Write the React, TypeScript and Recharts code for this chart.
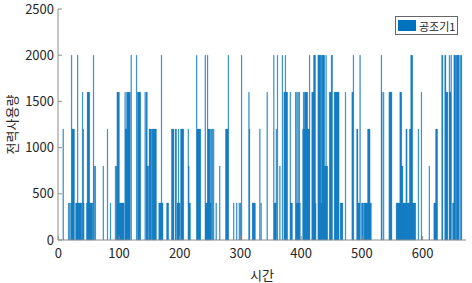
import React from "react";
import { Bar, BarChart, Legend, XAxis, YAxis } from "recharts";

const seriesName = "공조기1";
const hourTicks = [0, 100, 200, 300, 400, 500, 600];
const powerTicks = [0, 500, 1000, 1500, 2000, 2500];

// 시간별 전력사용량, 한 줄에 24시간씩 (0 ~ 671시)
const power: number[] = [
  0, 0, 0, 0, 0, 0, 0, 0, 1200, 0, 0, 0, 0, 0, 0, 0, 0, 400, 0, 400, 0, 400, 2000, 1200,
  1200, 1200, 1200, 0, 0, 400, 400, 400, 2000, 400, 400, 400, 400, 400, 400, 0, 1600, 1200, 400, 0, 0, 0, 0, 400,
  1600, 1600, 1600, 1600, 400, 400, 400, 400, 400, 0, 2000, 800, 0, 800, 0, 0, 0, 0, 0, 0, 0, 0, 0, 0,
  0, 0, 800, 0, 0, 0, 0, 0, 0, 1200, 0, 0, 0, 0, 400, 0, 0, 0, 0, 0, 0, 0, 800, 0,
  800, 1600, 1600, 1600, 1600, 400, 400, 400, 400, 400, 400, 400, 400, 0, 1600, 1200, 1200, 1600, 1600, 1600, 1600, 1600, 1600, 0,
  2000, 0, 0, 0, 0, 0, 0, 0, 0, 2000, 0, 1600, 1600, 1600, 1600, 1600, 0, 0, 0, 0, 0, 0, 0, 1600,
  0, 1600, 1600, 800, 800, 0, 1200, 1200, 1200, 1200, 0, 1200, 1200, 1200, 1200, 1200, 1200, 1200, 0, 0, 0, 0, 400, 400,
  400, 400, 2000, 400, 400, 0, 0, 0, 0, 0, 0, 400, 400, 400, 0, 0, 0, 0, 0, 1200, 1200, 1200, 1200, 0,
  0, 1200, 1200, 0, 400, 400, 1200, 400, 400, 0, 1200, 1200, 1200, 1200, 1200, 0, 0, 0, 0, 0, 0, 0, 1200, 800,
  400, 400, 0, 0, 0, 0, 0, 0, 0, 0, 0, 0, 2000, 1200, 1200, 1200, 1200, 1200, 1200, 0, 0, 0, 0, 0,
  0, 0, 2000, 400, 400, 400, 2000, 1200, 1200, 1200, 1200, 400, 1200, 0, 1200, 0, 1200, 0, 0, 0, 400, 0, 0, 0,
  0, 0, 800, 0, 0, 0, 0, 0, 0, 0, 0, 0, 1200, 1200, 1200, 1200, 2000, 0, 0, 0, 0, 0, 0, 0,
  0, 400, 0, 0, 0, 0, 400, 0, 0, 0, 400, 0, 400, 0, 2000, 0, 0, 0, 0, 0, 0, 0, 0, 0,
  0, 0, 1600, 1200, 0, 0, 0, 0, 400, 400, 400, 400, 400, 0, 0, 0, 0, 0, 0, 0, 1200, 0, 400, 0,
  0, 0, 0, 0, 0, 0, 0, 0, 1600, 0, 0, 0, 0, 0, 0, 0, 0, 0, 0, 2000, 400, 400, 400, 1200,
  0, 2000, 0, 0, 0, 800, 0, 0, 0, 2000, 0, 0, 1600, 1600, 2000, 1600, 1600, 1600, 0, 0, 0, 0, 1600, 400,
  400, 400, 0, 0, 0, 0, 0, 1600, 400, 1600, 400, 1600, 400, 1600, 400, 0, 0, 0, 0, 1200, 1600, 1200, 1600, 1600,
  1600, 1600, 1600, 1200, 1200, 1200, 2000, 0, 0, 0, 1600, 1600, 1600, 2000, 2000, 2000, 400, 0, 0, 0, 2000, 2000, 2000, 2000,
  2000, 400, 2000, 2000, 2000, 2000, 2000, 800, 800, 2000, 800, 800, 0, 0, 0, 1600, 1600, 1600, 2000, 2000, 0, 0, 0, 1600,
  1600, 1600, 1600, 1600, 1600, 1600, 1600, 0, 0, 400, 400, 400, 400, 0, 0, 0, 0, 1600, 0, 0, 0, 0, 0, 0,
  0, 0, 0, 0, 1600, 1600, 2000, 0, 0, 0, 0, 0, 1200, 1200, 400, 400, 400, 2000, 0, 0, 400, 400, 400, 0,
  400, 400, 400, 400, 400, 400, 1200, 1200, 1200, 1200, 400, 400, 0, 0, 0, 0, 0, 0, 0, 0, 0, 0, 0, 0,
  0, 0, 0, 0, 2000, 1600, 0, 0, 1600, 0, 0, 0, 0, 0, 0, 0, 0, 1600, 1600, 1600, 1600, 1600, 0, 0,
  0, 0, 0, 0, 0, 400, 400, 400, 400, 400, 400, 1600, 1600, 1600, 800, 800, 400, 400, 400, 400, 400, 1200, 1200, 400,
  400, 400, 400, 1200, 1200, 2000, 2000, 2000, 400, 400, 400, 400, 400, 0, 0, 0, 0, 1200, 0, 0, 0, 0, 1600, 0,
  0, 0, 0, 0, 0, 0, 0, 0, 0, 0, 0, 800, 0, 0, 0, 0, 0, 0, 0, 400, 400, 400, 1200, 1200,
  1200, 0, 0, 0, 0, 0, 0, 0, 2000, 2000, 0, 0, 0, 2000, 2000, 1600, 1600, 1600, 0, 0, 2000, 1600, 1600, 2000,
  0, 0, 400, 400, 2000, 2000, 2000, 0, 2000, 2000, 2000, 2000, 2000, 0, 0, 2000, 2000, 0, 0, 0, 0, 0, 0, 0,
];

const data = power.map((value, hour) => ({ hour, value }));

const FONT = "'Noto Sans CJK KR', 'Noto Sans', sans-serif";
const AXIS = "#8c8c8c";
const TEXT = "#262626";
const BLUE = "#0072BD";

const blank = () => "";

function LegendBox() {
  return (
    <div
      style={{
        display: "flex",
        alignItems: "center",
        boxSizing: "border-box",
        width: 63,
        height: 19,
        border: "1px solid #666",
        background: "#fff",
        paddingLeft: 2,
        fontSize: 11,
        color: TEXT,
        fontFamily: FONT,
      }}
    >
      <span style={{ width: 18, height: 11, background: BLUE, marginRight: 3 }} />
      <span>{seriesName}</span>
    </div>
  );
}

export default function App() {
  return (
    <div style={{ fontFamily: FONT }}>
      <style>{"body{margin:0}"}</style>
      <BarChart
        width={472}
        height={283}
        data={data}
        margin={{ top: 9, right: 6, bottom: 0, left: 0 }}
        barCategoryGap={0}
      >
        <XAxis
          dataKey="hour"
          ticks={hourTicks}
          interval={0}
          height={43}
          tickSize={-4}
          tickMargin={13}
          axisLine={{ stroke: AXIS }}
          tickLine={{ stroke: AXIS }}
          tick={{ fill: TEXT, fontSize: 13 }}
          label={{ value: "시간", position: "insideBottom", offset: 3, fill: TEXT, fontSize: 13 }}
        />
        <XAxis
          xAxisId="top"
          dataKey="hour"
          orientation="top"
          ticks={hourTicks}
          interval={0}
          height={0}
          tickSize={-4}
          axisLine={{ stroke: AXIS }}
          tickLine={{ stroke: AXIS }}
          tickFormatter={blank}
        />
        <YAxis
          domain={[0, 2500]}
          ticks={powerTicks}
          width={58}
          tickSize={-4}
          tickMargin={8}
          axisLine={{ stroke: AXIS }}
          tickLine={{ stroke: AXIS }}
          tick={{ fill: TEXT, fontSize: 13 }}
          label={{
            value: "전력사용량",
            angle: -90,
            position: "insideLeft",
            offset: 12,
            fill: TEXT,
            fontSize: 13,
            style: { textAnchor: "middle" },
          }}
        />
        <YAxis
          yAxisId="right"
          orientation="right"
          domain={[0, 2500]}
          ticks={powerTicks}
          width={0}
          tickSize={-4}
          axisLine={{ stroke: AXIS }}
          tickLine={{ stroke: AXIS }}
          tickFormatter={blank}
        />
        <Legend
          layout="vertical"
          align="center"
          verticalAlign="middle"
          content={() => <LegendBox />}
          wrapperStyle={{ position: "absolute", top: 16, left: 395, width: "auto", height: "auto" }}
        />
        <Bar
          dataKey="value"
          name={seriesName}
          fill={BLUE}
          stroke={BLUE}
          strokeWidth={0.3}
          isAnimationActive={false}
        />
      </BarChart>
    </div>
  );
}
